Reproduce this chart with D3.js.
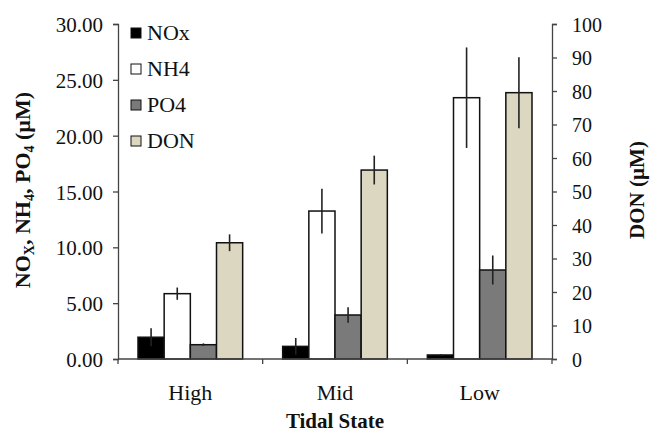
<!DOCTYPE html>
<html><head><meta charset="utf-8">
<script src="https://cdn.jsdelivr.net/npm/d3@7"></script>
<style>body{margin:0;background:#fff}svg{display:block}</style>
</head><body><svg id="c" width="660" height="434" font-family="'Liberation Serif', 'DejaVu Serif', serif"></svg>
<script>
const categories = ["High","Mid","Low"];
const series = ["NOx","NH4","PO4","DON"];
const noxValues = [1.95, 1.13, 0.36];
const noxErrors = [0.8, 0.75, 0.08];
const nh4Values = [5.85, 13.25, 23.4];
const nh4Errors = [0.55, 2.0, 4.5];
const po4Values = [1.28, 3.94, 7.97];
const po4Errors = [0.12, 0.7, 1.3];
const donValues = [34.7, 56.4, 79.5];
const donErrors = [2.5, 4.3, 10.6];
const leftTicks = [0,5,10,15,20,25,30];
const rightTicks = [0,10,20,30,40,50,60,70,80,90,100];

const FONT = "'Liberation Serif', 'DejaVu Serif', serif";
const colors = {NOx:"#000000", NH4:"#ffffff", PO4:"#7a7a7a", DON:"#dbd7c1"};
const valuesBy = {NOx:noxValues, NH4:nh4Values, PO4:po4Values, DON:donValues};
const errorsBy = {NOx:noxErrors, NH4:nh4Errors, PO4:po4Errors, DON:donErrors};

const svg = d3.select("#c");
const L=118, R=552, T=24, B=359;
const x0 = d3.scaleBand().domain(categories).range([L,R]);
const x1 = d3.scaleBand().domain(series).range([20, x0.bandwidth()-20]);
const yL = d3.scaleLinear().domain([0,30]).range([B,T]);
const yR = d3.scaleLinear().domain([0,100]).range([B,T]);
const axisColor = "#444";

categories.forEach((c,i)=>{
  series.forEach(s=>{
    const y = s==="DON"?yR:yL;
    const v = valuesBy[s][i], e = errorsBy[s][i];
    const bx = x0(c)+x1(s);
    svg.append("rect").attr("x",bx).attr("y",y(v)).attr("width",x1.bandwidth()).attr("height",B-y(v))
      .attr("fill",colors[s]).attr("stroke","#111").attr("stroke-width",1.5);
    const cx = bx + x1.bandwidth()/2;
    svg.append("line").attr("x1",cx).attr("x2",cx).attr("y1",y(v+e)).attr("y2",y(Math.max(0,v-e)))
      .attr("stroke","#222").attr("stroke-width",1.6);
  });
});

const gl = svg.append("g").attr("transform",`translate(${L},0)`)
  .call(d3.axisLeft(yL).tickValues(leftTicks).tickFormat(d3.format(".2f")).tickSize(5).tickSizeOuter(5));
gl.attr("font-family",FONT);
gl.selectAll("text").attr("font-size",21).attr("fill","#111").attr("dx",-7).attr("dy","0.36em");
gl.selectAll("line,path").attr("stroke",axisColor).attr("stroke-width",1.3);

const gr = svg.append("g").attr("transform",`translate(${R},0)`)
  .call(d3.axisRight(yR).tickValues(rightTicks).tickFormat(d3.format("d")).tickSize(5).tickSizeOuter(5));
gr.attr("font-family",FONT);
gr.selectAll("text").attr("font-size",20).attr("fill","#111").attr("dx",12).attr("dy","0.36em");
gr.selectAll("line,path").attr("stroke",axisColor).attr("stroke-width",1.3);

svg.append("line").attr("x1",L).attr("x2",R).attr("y1",B).attr("y2",B).attr("stroke",axisColor).attr("stroke-width",1.3);
categories.forEach(c=>{
  const xb = x0(c);
  svg.append("line").attr("x1",xb).attr("x2",xb).attr("y1",B).attr("y2",B+5).attr("stroke",axisColor).attr("stroke-width",1.3);
});
svg.append("line").attr("x1",R).attr("x2",R).attr("y1",B).attr("y2",B+5).attr("stroke",axisColor).attr("stroke-width",1.3);
categories.forEach(c=>{
  svg.append("text").attr("x",x0(c)+x0.bandwidth()/2).attr("y",400).attr("text-anchor","middle")
    .attr("font-family",FONT).attr("font-size",22).attr("fill","#111").text(c);
});
svg.append("text").attr("x",(L+R)/2).attr("y",428).attr("text-anchor","middle")
  .attr("font-family",FONT).attr("font-size",21).attr("font-weight","bold").attr("fill","#111").text("Tidal State");

const lt = svg.append("text").attr("transform","translate(30,190) rotate(-90)").attr("text-anchor","middle")
  .attr("font-family",FONT).attr("font-size",22).attr("font-weight","bold").attr("fill","#111");
lt.append("tspan").text("NO");
lt.append("tspan").attr("font-size",14).attr("dy",4).text("X");
lt.append("tspan").attr("dy",-4).text(", NH");
lt.append("tspan").attr("font-size",14).attr("dy",4).text("4");
lt.append("tspan").attr("dy",-4).text(", PO");
lt.append("tspan").attr("font-size",14).attr("dy",4).text("4");
lt.append("tspan").attr("dy",-4).text(" (µM)");

svg.append("text").attr("transform","translate(644,190) rotate(-90)").attr("text-anchor","middle")
  .attr("font-family",FONT).attr("font-size",21).attr("font-weight","bold").attr("fill","#111").text("DON (µM)");

series.forEach((s,i)=>{
  const ly = 33 + i*36;
  svg.append("rect").attr("x",131).attr("y",ly-5).attr("width",10).attr("height",10)
    .attr("fill",colors[s]).attr("stroke","#111").attr("stroke-width",1);
  svg.append("text").attr("x",147).attr("y",ly+7).attr("font-family",FONT).attr("font-size",22).attr("fill","#111").text(s);
});
</script></body></html>
